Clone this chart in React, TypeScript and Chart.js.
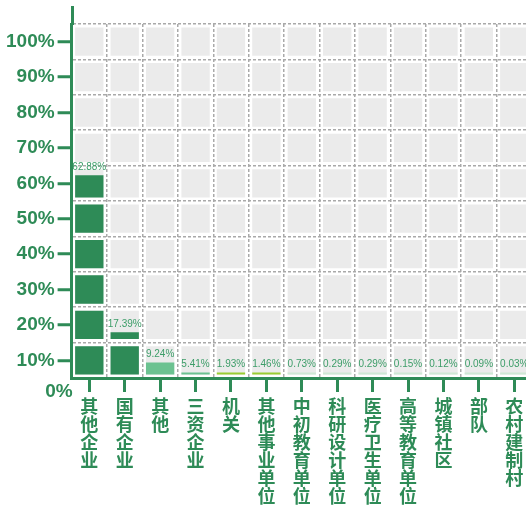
import { useEffect, useRef } from 'react';
import { Chart, registerables } from 'chart.js';

Chart.register(...registerables);

// ---- data ----
const categories = ['其他企业', '国有企业', '其他', '三资企业', '机关', '其他事业单位', '中初教育单位', '科研设计单位', '医疗卫生单位', '高等教育单位', '城镇社区', '部队', '农村建制村'];
const shares = [62.88, 17.39, 9.24, 5.41, 1.93, 1.46, 0.73, 0.29, 0.29, 0.15, 0.12, 0.09, 0.03];
const barColors = ['#2e8b57', '#2e8b57', '#6cc291', '#6cc291', '#9acd32', '#9acd32', '#cfe8d5', '#cfe8d5', '#cfe8d5', '#cfe8d5', '#cfe8d5', '#cfe8d5', '#cfe8d5'];
const yTickValues = [0, 10, 20, 30, 40, 50, 60, 70, 80, 90, 100];
const yTickLabels = ['0%', '10%', '20%', '30%', '40%', '50%', '60%', '70%', '80%', '90%', '100%'];
// lower bound of each 10% grid cell (cells are centred on the tick labels)
const cellStarts = [5, 15, 25, 35, 45, 55, 65, 75, 85, 95];

// ---- style ----
const GREEN = '#2e8b57';
const LABEL_GREEN = '#3c9d68';
const CELL_GRAY = '#ebebeb';
const GRID_GRAY = '#a9a9a9';
const CELL = 10;
const GAP = 1;
const INNER = CELL - 2 * GAP;
const Y_MIN = 5;
const Y_MAX = 105;
const ZERO_LABEL_AT = 1; // where the "0%" label sits (below the axis corner)
const Y_FONT = 'bold 19px "Liberation Sans", Arial, sans-serif';

function blockRange(v: number, lo: number, first: boolean): [number, number] | null {
  const hi = lo + CELL;
  if (v >= hi) return [lo + GAP, hi - GAP];
  if (v > lo) return [lo + GAP, lo + GAP + (INNER * (v - lo)) / CELL];
  return first ? [lo + GAP, lo + GAP] : null;
}

const valueLabelPlugin = {
  id: 'valueLabels',
  afterDatasetsDraw(chart: any) {
    const ctx = chart.ctx;
    ctx.save();
    ctx.font = '10px "Liberation Sans", Arial, sans-serif';
    ctx.fillStyle = LABEL_GREEN;
    ctx.textAlign = 'center';
    ctx.textBaseline = 'bottom';
    shares.forEach((v, i) => {
      let top: any = null;
      chart.data.datasets.forEach((ds: any, di: number) => {
        if (ds.kind !== 'bar') return;
        if (ds.data[i] == null) return;
        const el = chart.getDatasetMeta(di).data[i];
        if (!top || el.y < top.y) top = el;
      });
      if (top) ctx.fillText(v.toFixed(2) + '%', top.x, top.y - 3);
    });
    ctx.restore();
  },
};

const axisExtrasPlugin = {
  id: 'axisExtras',
  afterDraw(chart: any) {
    const { ctx, chartArea } = chart;
    const yScale = chart.scales.y;
    ctx.save();
    // axis line continues above the grid
    ctx.strokeStyle = GREEN;
    ctx.lineWidth = 3;
    ctx.beginPath();
    const x = Math.round(chartArea.left) + 0.5;
    ctx.moveTo(x, chartArea.top + 1);
    ctx.lineTo(x, 6);
    ctx.stroke();
    // "0%" label at the axis corner
    ctx.font = Y_FONT;
    ctx.fillStyle = GREEN;
    ctx.textAlign = 'right';
    ctx.textBaseline = 'middle';
    ctx.fillText(yTickLabels[0], chartArea.left + 1, yScale.getPixelForValue(ZERO_LABEL_AT));
    ctx.restore();
  },
};

export default function App() {
  const ref = useRef<HTMLCanvasElement>(null);

  useEffect(() => {
    if (!ref.current) return;

    const greenSets = cellStarts.map((lo, k) => ({
      kind: 'bar',
      data: shares.map((v) => blockRange(v, lo, k === 0)),
      backgroundColor: barColors,
      order: 0,
      minBarLength: 2,
    }));
    const graySets = cellStarts.map((lo) => ({
      kind: 'cell',
      data: shares.map(() => [lo + GAP, lo + CELL - GAP]),
      backgroundColor: CELL_GRAY,
      order: 1,
    }));

    const isGridValue = (v: number) => (v - Y_MIN) % CELL === 0;

    const chart = new Chart(ref.current, {
      type: 'bar',
      data: {
        labels: categories,
        datasets: [...greenSets, ...graySets] as any,
      },
      options: {
        animation: false,
        responsive: false,
        layout: { padding: { left: 3, top: 24, right: 8, bottom: 3 } },
        plugins: { legend: { display: false }, tooltip: { enabled: false } },
        datasets: {
          bar: { grouped: false, barPercentage: 0.8, categoryPercentage: 1, borderWidth: 0 },
        },
        scales: {
          x: {
            type: 'category',
            offset: true,
            grid: { offset: true, color: GRID_GRAY, lineWidth: 1.5, drawTicks: false },
            border: { display: false, dash: [3, 2] },
            ticks: { display: false },
          },
          x2: {
            type: 'category',
            position: 'bottom',
            labels: categories.map((c) => Array.from(c)),
            offset: true,
            grid: { offset: false, drawOnChartArea: false, tickLength: 14, tickWidth: 3, tickColor: GREEN },
            border: { display: true, color: GREEN, width: 3 },
            ticks: {
              color: GREEN,
              padding: 5,
              autoSkip: false,
              maxRotation: 0,
              minRotation: 0,
              font: { family: '"Noto Sans CJK SC", sans-serif', size: 18, weight: 'bold', lineHeight: 1 },
            },
          },
          y: {
            type: 'linear',
            min: Y_MIN,
            max: Y_MAX,
            afterBuildTicks: (scale: any) => {
              const t: number[] = yTickValues.filter((v) => v >= Y_MIN);
              cellStarts.forEach((v) => t.push(v));
              t.push(Y_MAX);
              t.sort((a, b) => a - b);
              scale.ticks = t.map((value) => ({ value }));
            },
            grid: {
              color: (c: any) => (c.tick && isGridValue(c.tick.value) ? GRID_GRAY : 'rgba(0,0,0,0)'),
              lineWidth: 1.5,
              tickLength: 14,
              tickWidth: 3,
              tickColor: (c: any) => (c.tick && !isGridValue(c.tick.value) ? GREEN : 'rgba(0,0,0,0)'),
            },
            border: { display: true, color: GREEN, width: 3, dash: [3, 2] },
            ticks: {
              autoSkip: false,
              padding: 3,
              color: GREEN,
              font: { family: '"Liberation Sans", Arial, sans-serif', size: 19, weight: 'bold' },
              callback: (value: any) => {
                const i = yTickValues.indexOf(value);
                return i > 0 ? yTickLabels[i] : '';
              },
            },
          },
        },
      } as any,
      plugins: [valueLabelPlugin, axisExtrasPlugin],
    });

    return () => chart.destroy();
  }, []);

  return (
    <div style={{ position: 'fixed', left: 0, top: 0, width: 526, height: 513, overflow: 'hidden', background: '#fff' }}>
      <canvas ref={ref} width={540} height={513} style={{ display: 'block' }} />
    </div>
  );
}
